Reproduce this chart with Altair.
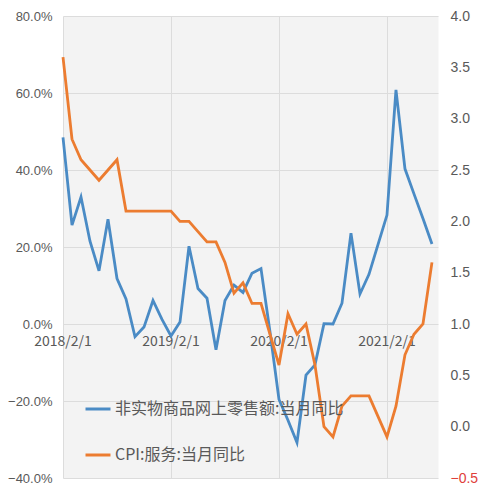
import altair as alt
import pandas as pd

# ---- data ----
months = [d.strftime("%Y-%m") for d in pd.date_range("2018-02-01", periods=42, freq="MS")]

online_nonphysical = [48.5, 25.7, 33.0, 21.5, 13.8, 27.2, 11.8, 6.5, -3.3, -0.8,
                      6.1, 1.2, -3.1, 0.5, 20.2, 9.2, 6.7, -6.7, 6.1, 10.1,
                      8.2, 13.2, 14.4, -2.0, -19.6, -25.0, -30.8, -13.3, -10.6, 0.1,
                      0.0, 5.4, 23.6, 7.8, 12.9, 20.6, 28.3, 60.8, 40.3, 33.8,
                      27.4, 20.8]

cpi_services = [3.6, 2.8, 2.6, 2.5, 2.4, 2.5, 2.6, 2.1, 2.1, 2.1,
                2.1, 2.1, 2.1, 2.0, 2.0, 1.9, 1.8, 1.8, 1.6, 1.3,
                1.4, 1.2, 1.2, 0.9, 0.6, 1.1, 0.9, 1.0, 0.6, 0.0,
                -0.1, 0.2, 0.3, 0.3, 0.3, 0.1, -0.1, 0.2, 0.7, 0.9,
                1.0, 1.6]

series_names = ["非实物商品网上零售额:当月同比", "CPI:服务:当月同比"]
series_colors = ["#4a8bc5", "#ec7c30"]

x_tick_pos = [0, 12, 24, 36]
x_tick_labels = ["2018/2/1", "2019/2/1", "2020/2/1", "2021/2/1"]

left_ticks = [-40, -20, 0, 20, 40, 60, 80]
right_ticks = [-0.5, 0.0, 0.5, 1.0, 1.5, 2.0, 2.5, 3.0, 3.5, 4.0]

FONT = "Noto Sans CJK SC"
NUMFONT = "Liberation Sans"
GRAY = "#595959"
GRID = "#dcdcdc"

df_a = pd.DataFrame({"i": range(len(months)), "month": months,
                     "v": online_nonphysical, "series": series_names[0]})
df_b = pd.DataFrame({"i": range(len(months)), "month": months,
                     "v": cpi_services, "series": series_names[1]})
df_lab = pd.DataFrame({"i": x_tick_pos, "label": x_tick_labels, "y": [0] * 4})

x_scale = alt.Scale(domain=[0, 41.67], nice=False, zero=False)
color = alt.Color(
    "series:N",
    scale=alt.Scale(domain=series_names, range=series_colors),
    sort=series_names,
    legend=alt.Legend(
        orient="none", legendX=21, legendY=379, direction="vertical", title=None,
        symbolType="stroke", symbolSize=625, symbolStrokeWidth=3,
        labelFontSize=16, labelFont=FONT, labelColor=GRAY, rowPadding=24,
        labelOffset=3, padding=0, labelLimit=400,
    ),
)

x_enc = alt.X(
    "i:Q", scale=x_scale,
    axis=alt.Axis(values=x_tick_pos, labels=False, ticks=False, domain=False,
                  grid=True, gridColor=GRID, title=None),
)

labels = alt.Chart(df_lab).mark_text(
    font=FONT, fontSize=14, color=GRAY, dy=18, baseline="middle", align="center"
).encode(
    x=alt.X("i:Q", scale=x_scale),
    y=alt.Y("y:Q", scale=alt.Scale(domain=[-40, 80], nice=False, zero=False), axis=None),
    text="label:N",
)

line_a = alt.Chart(df_a).mark_line(strokeWidth=2.8).encode(
    x=x_enc,
    y=alt.Y("v:Q", scale=alt.Scale(domain=[-40, 80], nice=False, zero=False),
            axis=alt.Axis(values=left_ticks, labelExpr="format(datum.value, '.1f') + '%'",
                          grid=True, gridColor=GRID, domain=False, ticks=False,
                          labelPadding=11, labelFontSize=13, labelFont=NUMFONT,
                          labelColor=GRAY, title=None, orient="left")),
    color=color,
)

line_b = alt.Chart(df_b).mark_line(strokeWidth=2.8).encode(
    x=alt.X("i:Q", scale=x_scale),
    y=alt.Y("v:Q", scale=alt.Scale(domain=[-0.5, 4.0], nice=False, zero=False),
            axis=alt.Axis(values=right_ticks, format=".1f", grid=False, domain=False,
                          ticks=False, labelPadding=12, labelFontSize=14, labelFont=NUMFONT,
                          labelColor={"condition": {"test": "datum.value < 0", "value": "#e0403a"},
                                      "value": GRAY},
                          title=None, orient="right")),
    color=color,
)

chart = alt.layer(labels, line_a, line_b).resolve_scale(y="independent").properties(
    width=375, height=462,
    autosize=alt.AutoSizeParams(type="none"),
    padding={"left": 55, "top": 8, "right": 45, "bottom": 12},
    background="white",
).configure_view(fill="#f3f3f3", strokeOpacity=0)

chart.save("out.html", embed_options={"renderer": "svg", "actions": False})
